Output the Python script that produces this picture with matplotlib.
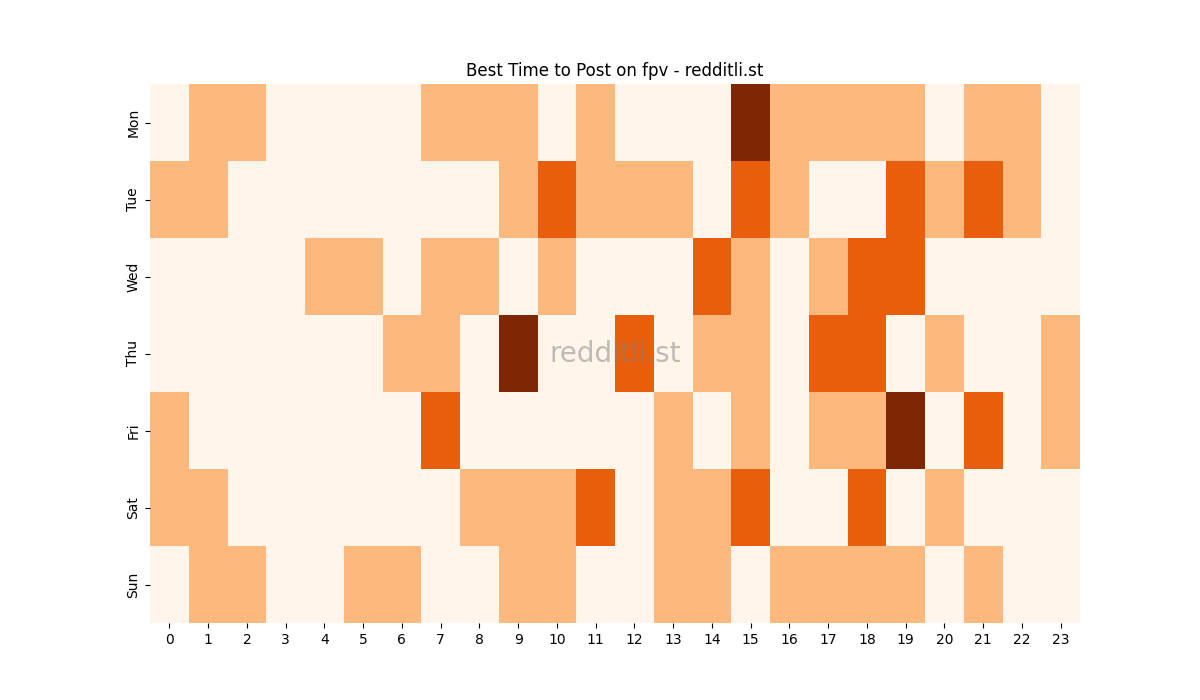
import numpy as np
import matplotlib
matplotlib.use("Agg")
import matplotlib.pyplot as plt
import seaborn as sns

days = ["Mon", "Tue", "Wed", "Thu", "Fri", "Sat", "Sun"]
hours = list(range(24))

# activity level per hour (0 = low ... 3 = best)
mon = [0, 1, 1, 0, 0, 0, 0, 1, 1, 1, 0, 1, 0, 0, 0, 3, 1, 1, 1, 1, 0, 1, 1, 0]
tue = [1, 1, 0, 0, 0, 0, 0, 0, 0, 1, 2, 1, 1, 1, 0, 2, 1, 0, 0, 2, 1, 2, 1, 0]
wed = [0, 0, 0, 0, 1, 1, 0, 1, 1, 0, 1, 0, 0, 0, 2, 1, 0, 1, 2, 2, 0, 0, 0, 0]
thu = [0, 0, 0, 0, 0, 0, 1, 1, 0, 3, 0, 0, 2, 0, 1, 1, 0, 2, 2, 0, 1, 0, 0, 1]
fri = [1, 0, 0, 0, 0, 0, 0, 2, 0, 0, 0, 0, 0, 1, 0, 1, 0, 1, 1, 3, 0, 2, 0, 1]
sat = [1, 1, 0, 0, 0, 0, 0, 0, 1, 1, 1, 2, 0, 1, 1, 2, 0, 0, 2, 0, 1, 0, 0, 0]
sun = [0, 1, 1, 0, 0, 1, 1, 0, 0, 1, 1, 0, 0, 1, 1, 0, 1, 1, 1, 1, 0, 1, 0, 0]

grid = np.array([mon, tue, wed, thu, fri, sat, sun])

fig, ax = plt.subplots(figsize=(12, 7), dpi=100)
sns.heatmap(grid, cmap="Oranges", vmin=0, vmax=3, cbar=False,
            xticklabels=hours, yticklabels=days, ax=ax)
ax.set_title("Best Time to Post on fpv - redditli.st")
ax.text(0.5, 0.5, "redditli.st", transform=ax.transAxes, ha="center",
        va="center", fontsize=20, color="grey", alpha=0.5)
plt.savefig("out.png", dpi=100)
